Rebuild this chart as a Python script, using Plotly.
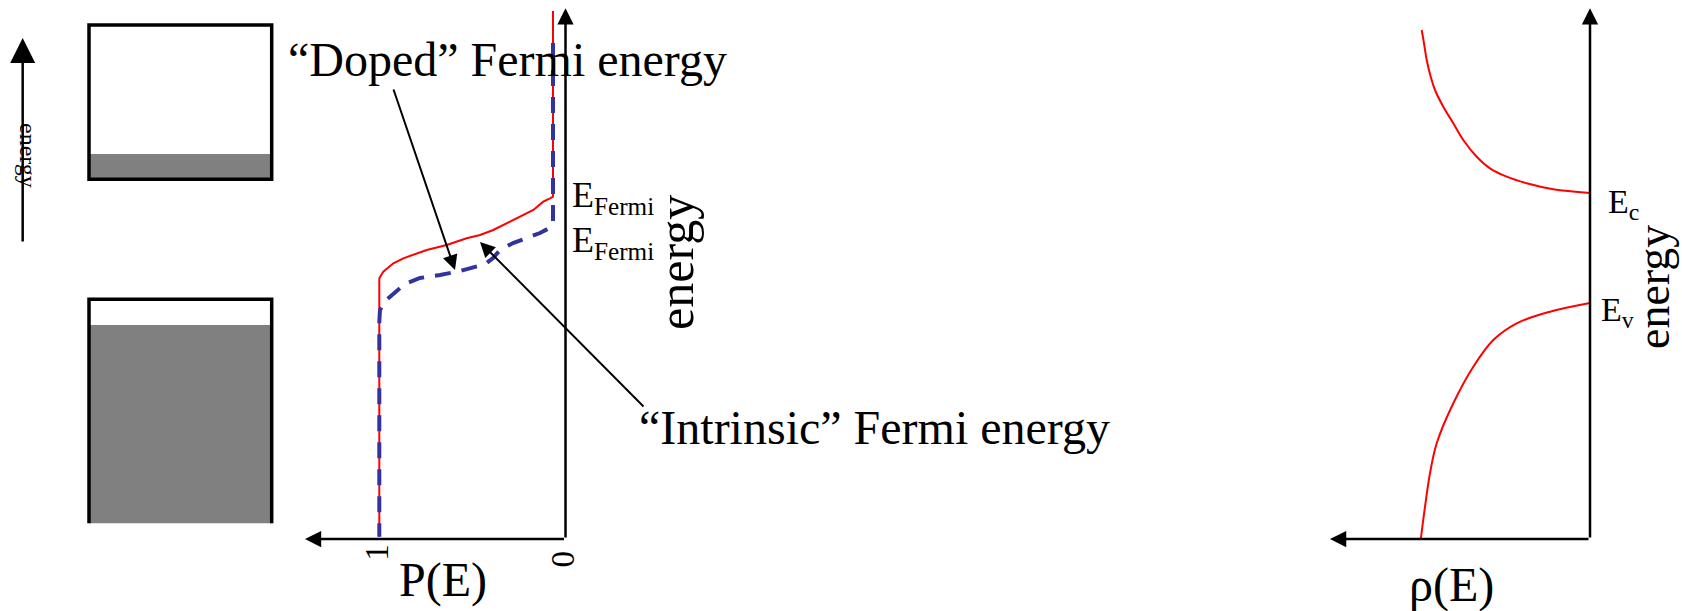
import plotly.graph_objects as go

W, H = 1682, 611

# ---------------- data ----------------
# energies in eV relative to the valence-band edge
E_c = 1.10
E_v = 0.0

# occupation probability P(E): doped (red, solid)
doped_P = [0.0, 0.0, 0.017, 0.056, 0.113, 0.19, 0.267, 0.344, 0.42, 0.497, 0.612,
           0.727, 0.862, 0.919, 0.977, 1.0, 1.0, 1.0]
doped_E = [2.92, 1.063, 1.047, 1.013, 0.93, 0.863, 0.803, 0.73, 0.68, 0.647, 0.58,
           0.53, 0.447, 0.397, 0.313, 0.247, 0.147, -2.337]

# occupation probability P(E): intrinsic (blue, dashed)
intr_P = [0.0, 0.0, 0.023, 0.075, 0.15, 0.23, 0.305, 0.345, 0.39, 0.535, 0.65,
          0.766, 0.852, 0.91, 0.967, 0.996, 1.0, 1.0]
intr_E = [2.60, 0.78, 0.747, 0.70, 0.65, 0.60, 0.53, 0.45, 0.39, 0.32, 0.28,
          0.25, 0.19, 0.11, 0.02, -0.07, -0.19, -2.337]

# density of states rho(E): conduction band and valence band
cb_rho = [1.683, 1.66, 1.633, 1.593, 1.55, 1.467, 1.367, 1.267, 1.133, 1.0,
          0.833, 0.633, 0.367, 0.0]
cb_E = [2.73, 2.597, 2.43, 2.263, 2.13, 1.963, 1.797, 1.63, 1.463, 1.347,
        1.263, 1.197, 1.137, 1.10]
vb_rho = [0.0, 0.40, 0.733, 0.967, 1.167, 1.367, 1.533, 1.60, 1.65, 1.693]
vb_E = [0.0, -0.087, -0.203, -0.37, -0.637, -1.003, -1.403, -1.703, -2.037, -2.37]

# band-diagram boxes: [bottom, top of filled part, top]
cond_band = [1.237, 1.49, 2.78]
val_band = [-2.203, -0.22, 0.037]
band_x = [0.0, 1.0]

# axis extents
E_axis = [-2.36, 2.947]
P_axis = [-0.072, 1.428]
rho_axis = [0.0, 2.60]
left_arrow_E = [0.60, 2.65]
left_arrow_x = -0.363

p_ticks = [1, 0]
p_tick_text = ["1", "0"]

# ---------------- geometry ----------------
E0_PX, E_SCALE = 303.0, 100.0
y_range = [(E0_PX - H) / E_SCALE, E0_PX / E_SCALE]

P0_PX, P_SCALE = 553.0, 173.7
mid_dom = [290.0, 720.0]
mid_range = [(P0_PX - mid_dom[0]) / P_SCALE, (P0_PX - mid_dom[1]) / P_SCALE]

R0_PX, R_SCALE = 1590.0, 100.0
r_dom = [1300.0, 1682.0]
r_range = [(R0_PX - r_dom[0]) / R_SCALE, (R0_PX - r_dom[1]) / R_SCALE]

L0_PX, L_SCALE = 89.0, 182.7
l_dom = [0.0, 285.0]
l_range = [(l_dom[0] - L0_PX) / L_SCALE, (l_dom[1] - L0_PX) / L_SCALE]

FONT = "Liberation Serif"
RED = "#ff0000"
BLUE = "#33339f"

fig = go.Figure()

fig.add_trace(go.Scatter(x=doped_P, y=doped_E, mode="lines", xaxis="x", yaxis="y",
                         line=dict(color=RED, width=2), hoverinfo="skip"))
fig.add_trace(go.Scatter(x=intr_P, y=intr_E, mode="lines", xaxis="x", yaxis="y",
                         line=dict(color=BLUE, width=4, dash="16px,11px"), hoverinfo="skip"))
fig.add_trace(go.Scatter(x=cb_rho, y=cb_E, mode="lines", xaxis="x2", yaxis="y",
                         line=dict(color=RED, width=2, shape="spline"), hoverinfo="skip"))
fig.add_trace(go.Scatter(x=vb_rho, y=vb_E, mode="lines", xaxis="x2", yaxis="y",
                         line=dict(color=RED, width=2, shape="spline"), hoverinfo="skip"))

shapes = []
GRAY = "#808080"
# conduction band box (closed) with thin filled strip at bottom
shapes.append(dict(type="rect", xref="x3", yref="y", x0=band_x[0], x1=band_x[1],
                   y0=cond_band[0], y1=cond_band[1], fillcolor=GRAY, line=dict(width=0), layer="below"))
shapes.append(dict(type="rect", xref="x3", yref="y", x0=band_x[0], x1=band_x[1],
                   y0=cond_band[0], y1=cond_band[2], fillcolor="rgba(0,0,0,0)",
                   line=dict(color="black", width=3.5)))
# valence band box (open at bottom), mostly filled
shapes.append(dict(type="rect", xref="x3", yref="y", x0=band_x[0], x1=band_x[1],
                   y0=val_band[0], y1=val_band[1], fillcolor=GRAY, line=dict(width=0), layer="below"))
vb_path = "M {a},{b} L {a},{c} L {d},{c} L {d},{b}".format(
    a=band_x[0], b=val_band[0], c=val_band[2], d=band_x[1])
shapes.append(dict(type="path", xref="x3", yref="y", path=vb_path,
                   line=dict(color="black", width=3.5)))

annotations = []


def arrow(xref, x, y, ax, ay, width=2.5, size=1.3):
    annotations.append(dict(xref=xref, yref="y", axref=xref, ayref="y", x=x, y=y, ax=ax, ay=ay,
                            text="", showarrow=True, arrowhead=2, arrowsize=size,
                            arrowwidth=width, arrowcolor="black", standoff=0, startstandoff=0))


# middle panel axes
arrow("x", P_axis[0], E_axis[1], P_axis[0], E_axis[0], width=2.5, size=1.3)
arrow("x", P_axis[1], E_axis[0], P_axis[0], E_axis[0], width=2.5, size=1.3)
# right panel axes
arrow("x2", rho_axis[0], E_axis[1], rho_axis[0], E_axis[0], width=2.5, size=1.3)
arrow("x2", rho_axis[1], E_axis[0], rho_axis[0], E_axis[0], width=2.5, size=1.3)
# left energy arrow
arrow("x3", left_arrow_x, left_arrow_E[1], left_arrow_x, left_arrow_E[0], width=2.5, size=2.0)
# pointer arrows
arrow("x", (P0_PX - 455) / P_SCALE, (E0_PX - 270) / E_SCALE,
      (P0_PX - 393) / P_SCALE, (E0_PX - 88) / E_SCALE, width=2, size=1.5)
arrow("x", (P0_PX - 480) / P_SCALE, (E0_PX - 242) / E_SCALE,
      (P0_PX - 645) / P_SCALE, (E0_PX - 408) / E_SCALE, width=2, size=1.5)


def label(text, px, py, size, xanchor="center", angle=0):
    annotations.append(dict(xref="paper", yref="paper", x=px / W, y=1 - py / H,
                            text=text, showarrow=False, xanchor=xanchor, yanchor="middle",
                            textangle=angle, font=dict(family=FONT, size=size, color="black")))


label("\u201cDoped\u201d Fermi energy", 286, 60, 48, xanchor="left")
label("\u201cIntrinsic\u201d Fermi energy", 637, 427, 48, xanchor="left")
label("P(E)", 443, 580, 48)
label("\u03c1(E)", 1451, 585, 48)
label("E<sub>Fermi</sub>", 570, 197, 36, xanchor="left")
label("E<sub>Fermi</sub>", 570, 242, 36, xanchor="left")
label("energy", 676, 263, 50, angle=-90)
label("energy", 1653, 287, 46, angle=-90)
label("energy", 28, 155, 24, angle=90)
label("E<sub>c</sub>", 1606, 204, 34, xanchor="left")
label("E<sub>v</sub>", 1599, 312, 34, xanchor="left")

# tick labels of P(E)
tick_shift = {1: -3, 0: 9}
tick_py = {1: 563, 0: 570}
for v, t in zip(p_ticks, p_tick_text):
    annotations.append(dict(xref="x", yref="paper", x=v, y=1 - tick_py[v] / H, xshift=tick_shift[v],
                            text=t, showarrow=False, textangle=-90,
                            font=dict(family=FONT, size=33, color="black")))

ax_common = dict(visible=False, showgrid=False, zeroline=False, fixedrange=True)
fig.update_layout(
    width=W, height=H, margin=dict(l=0, r=0, t=0, b=0),
    paper_bgcolor="white", plot_bgcolor="rgba(0,0,0,0)", showlegend=False,
    xaxis=dict(domain=[mid_dom[0] / W, mid_dom[1] / W], range=mid_range, anchor="y", **ax_common),
    xaxis2=dict(domain=[r_dom[0] / W, r_dom[1] / W], range=r_range, anchor="y", **ax_common),
    xaxis3=dict(domain=[l_dom[0] / W, l_dom[1] / W], range=l_range, anchor="y", **ax_common),
    yaxis=dict(domain=[0, 1], range=y_range, **ax_common),
    shapes=shapes, annotations=annotations,
)

fig.write_html("out.html", config={"displayModeBar": False},
               post_script="document.body.style.margin='0';document.body.style.overflow='hidden';")
